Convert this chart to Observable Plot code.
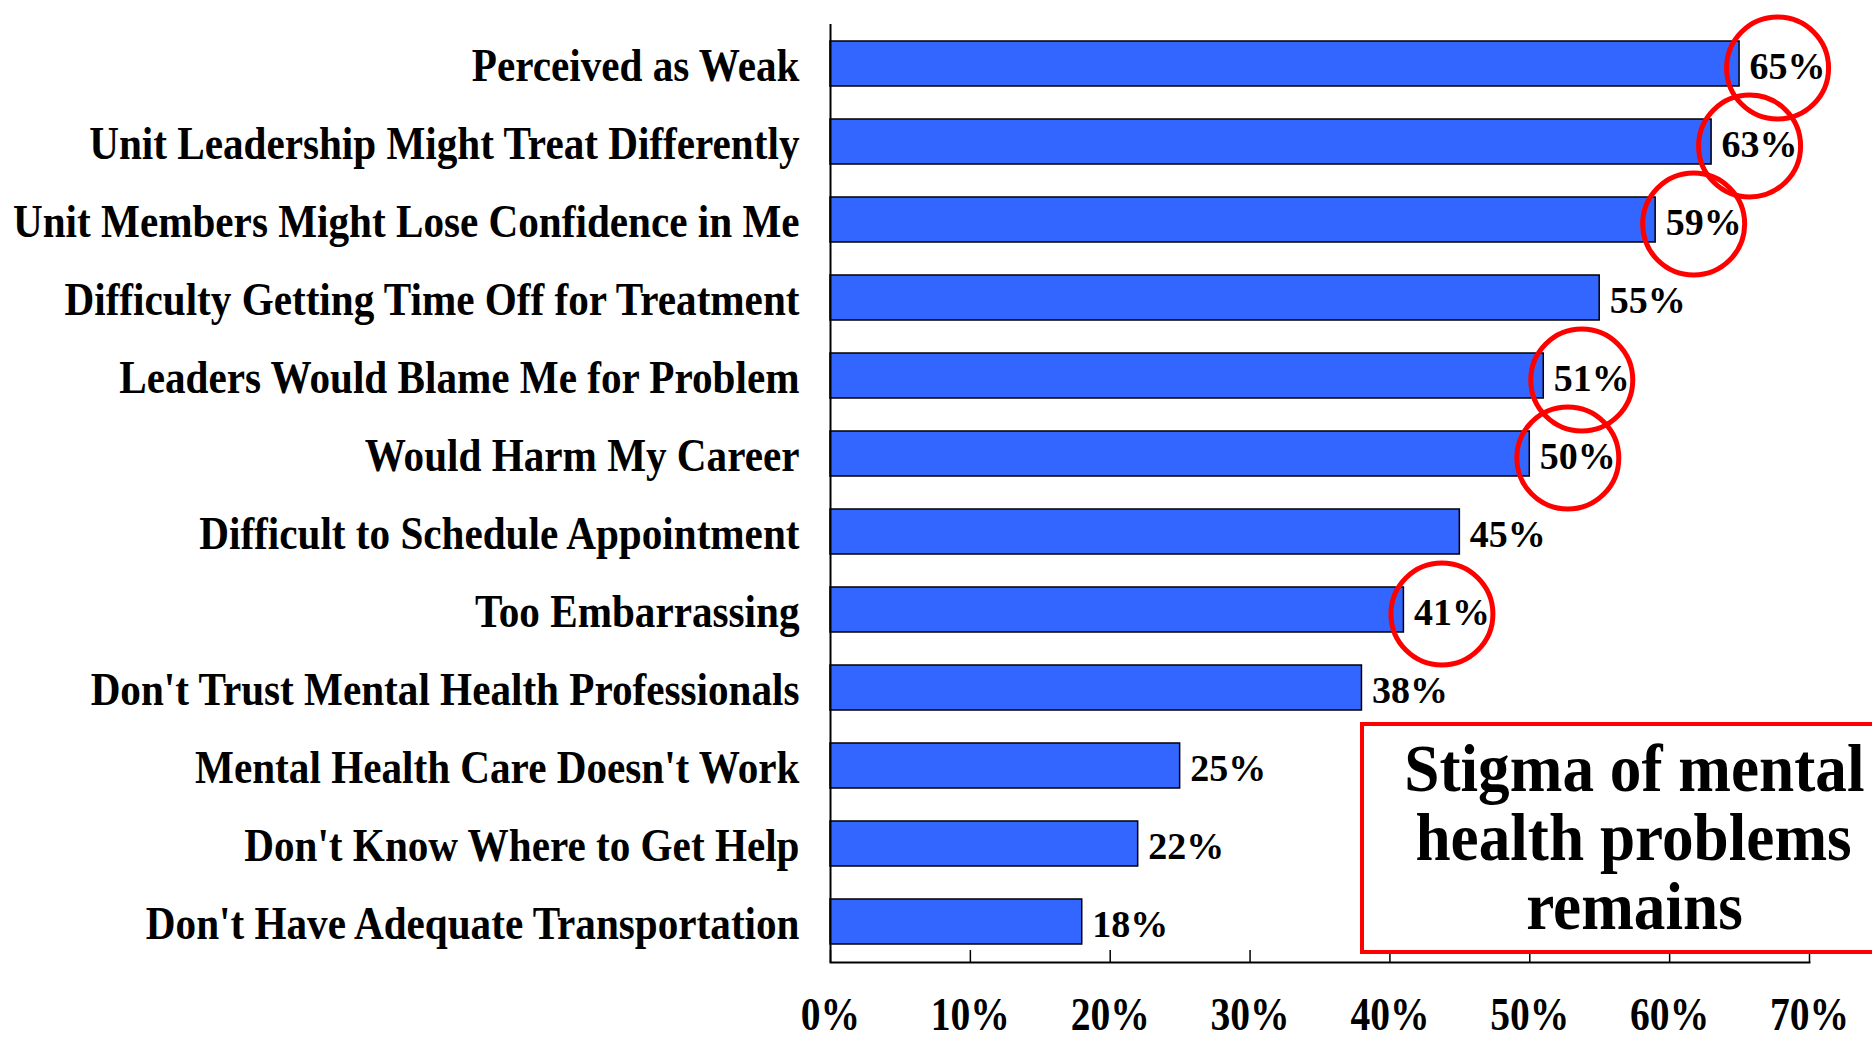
<!DOCTYPE html>
<html><head><meta charset="utf-8">
<script src="https://cdn.jsdelivr.net/npm/d3@7"></script>
<script src="https://cdn.jsdelivr.net/npm/@observablehq/plot@0.6"></script>
<style>
html,body{margin:0;padding:0;background:#fff;overflow:hidden;}
#wrap{position:relative;width:1872px;height:1041px;}
#note{position:absolute;left:1360px;top:722px;width:540px;height:216px;border:4px solid #ff0000;text-align:center;
  font-family:"Liberation Serif","Times New Roman",serif;font-weight:bold;font-size:68px;line-height:69px;padding-top:8px;color:#000;}
#note span{display:inline-block;transform:scaleX(0.93);white-space:nowrap;}
</style></head><body><div id="wrap"></div>
<script>
const categories = [
  "Perceived as Weak",
  "Unit Leadership Might Treat Differently",
  "Unit Members Might Lose Confidence in Me",
  "Difficulty Getting Time Off for Treatment",
  "Leaders Would Blame Me for Problem",
  "Would Harm My Career",
  "Difficult to Schedule Appointment",
  "Too Embarrassing",
  "Don't Trust Mental Health Professionals",
  "Mental Health Care Doesn't Work",
  "Don't Know Where to Get Help",
  "Don't Have Adequate Transportation"
];
const values = [65, 63, 59, 55, 51, 50, 45, 41, 38, 25, 22, 18];
const circled = [
  "Perceived as Weak",
  "Unit Leadership Might Treat Differently",
  "Unit Members Might Lose Confidence in Me",
  "Leaders Would Blame Me for Problem",
  "Would Harm My Career",
  "Too Embarrassing"
];
const xTicks = [0, 10, 20, 30, 40, 50, 60, 70];
const noteLines = ["Stigma of mental", "health problems", "remains"];

const data = categories.map((c, i) => ({category: c, value: values[i]}));

const W = 1872, H = 1041, mL = 830, mR = 63, mT = 24, mB = 79;

const chart = Plot.plot({
  width: W, height: H,
  marginLeft: mL, marginRight: mR, marginTop: mT, marginBottom: mB,
  style: {fontFamily: "'Liberation Serif','Times New Roman',serif", fontWeight: "bold", background: "transparent", color: "#000"},
  x: {domain: [0, 70], axis: null},
  y: {domain: categories, paddingInner: 0.42, paddingOuter: 0.195, axis: null},
  marks: [
    Plot.barX(data, {x: "value", y: "category", fill: "#3366ff", stroke: "#000", strokeWidth: 1.5}),
    Plot.ruleX([0], {stroke: "#000", strokeWidth: 2}),
    Plot.frame({anchor: "bottom", stroke: "#000", strokeWidth: 2}),
    Plot.tickX(xTicks, {x: d => d, insetTop: H - mT - mB - 12, stroke: "#000", strokeWidth: 1.5}),
    Plot.axisX({ticks: xTicks, tickFormat: d => d + "%", tickSize: 0, tickPadding: 35, fontSize: 46, label: null}),
    Plot.axisY({tickSize: 0, tickPadding: 31, fontSize: 46, dy: 2, label: null}),
    Plot.dot(data.filter(d => circled.includes(d.category)), {x: "value", y: "category", r: 51, stroke: "#ff0000", strokeWidth: 5, fill: "none", dx: 38, dy: 4}),
    Plot.text(data, {x: "value", y: "category", text: d => d.value + "%", dx: 10, dy: 3, textAnchor: "start", fontSize: 38, ariaLabel: "value label"})
  ]
});

function condense(svg, label, s) {
  d3.select(svg).selectAll(`g[aria-label="${label}"] text`).each(function () {
    const t = this.getAttribute("transform") || "";
    this.setAttribute("transform", `${t} scale(${s},1)`);
  });
}
condense(chart, "y-axis tick label", 0.895);
condense(chart, "x-axis tick label", 0.86);
condense(chart, "value label", 0.9);

const wrap = document.getElementById("wrap");
wrap.appendChild(chart);
const note = document.createElement("div");
note.id = "note";
note.innerHTML = noteLines.map(l => `<span>${l}</span>`).join("<br>");
wrap.appendChild(note);
</script>
</body></html>
